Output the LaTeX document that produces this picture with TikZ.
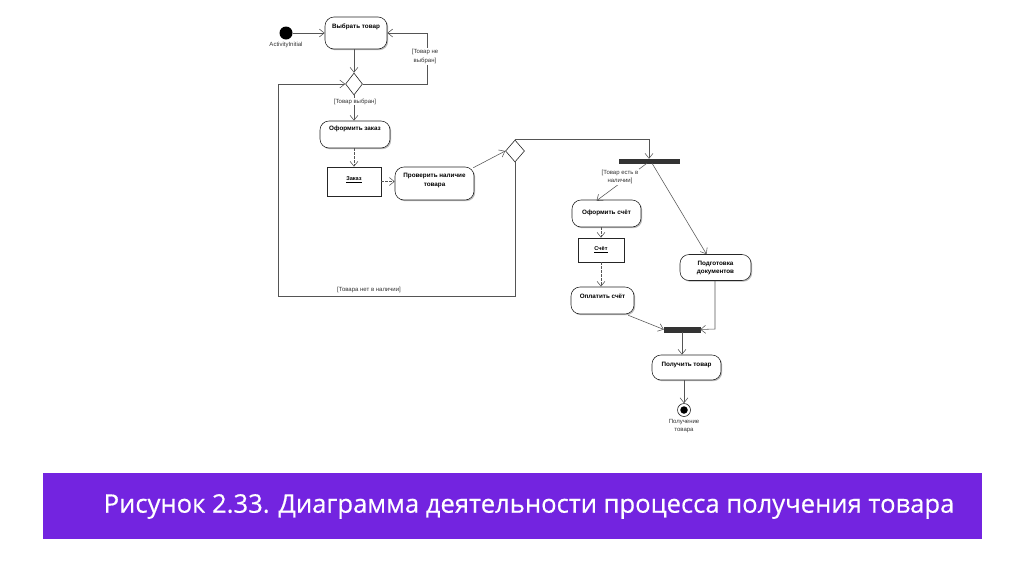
\documentclass[tikz,border=0pt]{standalone}
\usepackage{fontspec}
\setmainfont{Liberation Sans}
\newfontfamily\capfont{Open Sans}[FakeBold=0.45]
\usetikzlibrary{shapes.geometric,arrows.meta,shadows}
\definecolor{capbg}{RGB}{115,36,224}
\definecolor{lineclr}{RGB}{85,85,85}
\begin{document}
\begin{tikzpicture}[x=1pt,y=-1pt,
  action/.style={draw=black!85, line width=0.6pt, fill=white, rounded corners=9pt,
    inner sep=0pt, drop shadow={shadow xshift=1.2pt, shadow yshift=-1.2pt, opacity=0.45, fill=black!60}},
  objbox/.style={draw=black!85, line width=0.6pt, fill=white, inner sep=0pt,
    drop shadow={shadow xshift=1.2pt, shadow yshift=-1.2pt, opacity=0.45, fill=black!60}},
  atext/.style={font=\bfseries\fontsize{6.3}{8.5}\selectfont, align=center, inner sep=0pt},
  gtext/.style={font=\fontsize{6}{8.5}\selectfont, align=center, inner sep=1pt, text=black!80},
  glabel/.style={gtext, fill=white},
  dec/.style={draw=black!85, line width=0.6pt, fill=white, shape=diamond, inner sep=0pt, aspect=0.75},
  bar/.style={draw=black!80, fill=black!80, inner sep=0pt},
  arr/.style={draw=lineclr, line width=0.55pt, -{Straight Barb[length=5pt,width=8pt]}},
  dep/.style={arr, dashed, dash pattern=on 2.5pt off 1.5pt},
  ln/.style={draw=lineclr, line width=0.55pt}]
\useasboundingbox (0,0) rectangle (1024,574);
\fill[white] (0,0) rectangle (1024,574);

% nodes
\node[circle, fill=black, inner sep=0pt, minimum size=13] (init) at (286,33) {};
\node[gtext] (initlbl) at (286,44.5) {ActivityInitial};

\node[action, minimum width=62, minimum height=32] (choose) at (356,33) {};
\node[atext] (chooset) at (356,27) {Выбрать товар};

\node[dec, minimum width=17, minimum height=22] (d1) at (354,84) {};

\node[action, minimum width=70, minimum height=27] (order) at (355,134.5) {};
\node[atext] (ordert) at (355,128.5) {Оформить заказ};

\node[objbox, minimum width=54, minimum height=29] (zakaz) at (354,181.5) {};
\node[atext, font=\bfseries\fontsize{5.6}{7}\selectfont] (zakazt) at (354,180) {\underline{Заказ}};

\node[action, minimum width=79, minimum height=33] (check) at (434.5,183.5) {};
\node[atext] (checkt) at (434.5,180.5) {Проверить наличие\\товара};

\node[dec, minimum width=19, minimum height=22] (d2) at (515,151) {};

\node[bar, minimum width=60, minimum height=4] (fork1) at (649,161) {};

\node[action, minimum width=69, minimum height=27] (pay1) at (606.5,213.5) {};
\node[atext] (pay1t) at (606.5,213) {Оформить счёт};

\node[objbox, minimum width=46, minimum height=24] (schet) at (601,250) {};
\node[atext, font=\bfseries\fontsize{5.6}{7}\selectfont] (schett) at (601,250) {\underline{Счёт}};

\node[action, minimum width=63, minimum height=27] (pay2) at (602.5,300.5) {};
\node[atext] (pay2t) at (602.5,296.5) {Оплатить счёт};

\node[action, minimum width=71, minimum height=26] (docs) at (715.5,267.5) {};
\node[atext] (docst) at (715.5,268) {Подготовка\\документов};

\node[bar, minimum width=36, minimum height=4.5] (fork2) at (682,329.5) {};

\node[action, minimum width=69, minimum height=25] (get) at (686.5,367.5) {};
\node[atext] (gett) at (686.5,365) {Получить товар};

\node[circle, draw=black!85, line width=0.6pt, fill=white, inner sep=0pt, minimum size=13] (final) at (684,410) {};
\node[circle, fill=black, inner sep=0pt, minimum size=7.5] (finalin) at (684,410) {};
\node[gtext] (finallbl) at (684,426) {Получение\\товара};

% helper coordinates
\coordinate (cr) at (427,84);
\coordinate (lb) at (278,296);
\coordinate (lt) at (278,84);
\coordinate (dbot) at (515,296);
\coordinate (ftop) at (649,141);
\coordinate (dcorner) at (715,329);

% connectors
\draw[arr] (init) -- (init -| choose.west);
\draw[arr] (choose.south -| d1.north) -- (d1.north);
\draw[arr] (d1.east) -- (cr) |- (choose.east);
\node[glabel] (lbl1) at (425,56.5) {[Товар не\\выбран]};

\draw[arr] (d2.south) -- (dbot) -- (lb) -- (lt) -- (d1.west);
\node[gtext] (lbl2) at (369,290) {[Товара нет в наличии]};

\draw[arr] (d1.south) -- (order.north -| d1.south);
\node[glabel] (lbl3) at (355,101.5) {[Товар выбран]};

\draw[dep] (order.south -| zakaz.north) -- (zakaz.north);
\draw[dep] (zakaz.east) -- (zakaz.east -| check.west);
\draw[arr] ([xshift=-1pt,yshift=-1pt]check.north east) -- (d2.west);

\draw[arr] (d2.north) -- (d2.north -| ftop) -- (fork1.north);

\draw[arr] ([xshift=-2pt]fork1.south) -- ([xshift=-10pt,yshift=-1pt]pay1.north);
\node[glabel] (lbl4) at (620,177) {[Товар есть в\\наличии]};
\draw[arr] ([xshift=3pt]fork1.south) -- ([xshift=-9pt]docs.north);

\draw[dep] (pay1.south -| schet.north) -- (schet.north);
\draw[dep] (schet.south) -- (schet.south |- pay2.north);

\draw[arr] ([xshift=-6pt,yshift=-1pt]pay2.south east) -- (fork2.west);
\draw[arr] (docs.south -| dcorner) -- (dcorner) -- (fork2.east);

\draw[arr] (fork2.south) -- (fork2.south |- get.north);
\draw[arr] (get.south -| final.north) -- (final.north);

% caption
\fill[capbg] (43,473) rectangle (982,539);
\node[text=white, font=\capfont\fontsize{25.6}{29}\selectfont, inner sep=0pt] (cap) at (529,506.5) {Рисунок 2.33. Диаграмма деятельности процесса получения товара};
\end{tikzpicture}
\end{document}
